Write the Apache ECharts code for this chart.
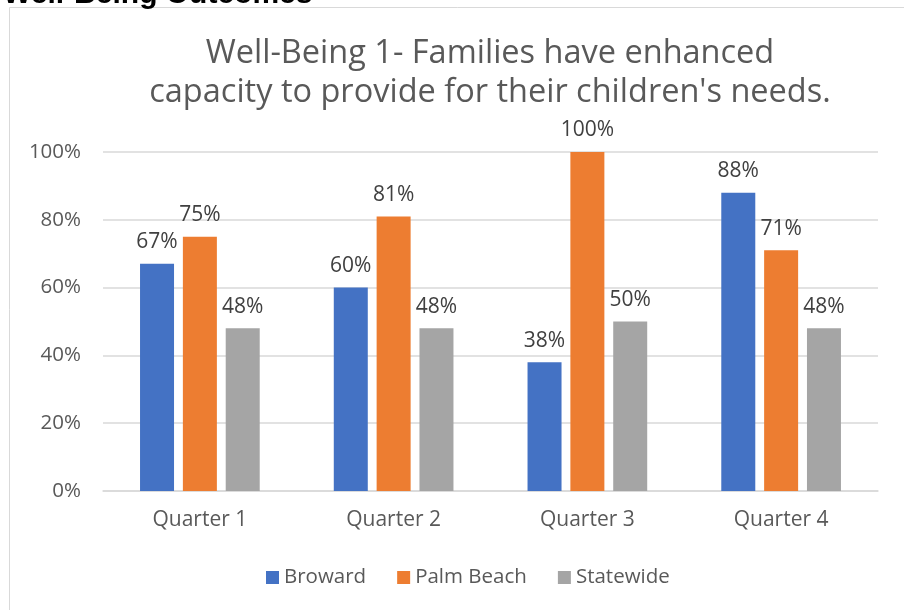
<!DOCTYPE html>
<html><head><meta charset="utf-8">
<script src="https://cdn.jsdelivr.net/npm/echarts@6/dist/echarts.min.js"></script>
<style>html,body{margin:0;padding:0;background:#fff}#c{width:904px;height:610px}</style>
</head><body><div id="c"></div>
<script>
const categories = ['Quarter 1','Quarter 2','Quarter 3','Quarter 4'];
const broward = [67,60,38,88];
const palmBeach = [75,81,100,71];
const statewide = [48,48,50,48];
const yTicks = [0,20,40,60,80,100];
const font = '"Open Sans", sans-serif';
const chart = echarts.init(document.getElementById('c'));
const lbl = {show:true, position:'top', distance:11, formatter: p => p.value + '%', color:'#404040', fontSize:21, fontFamily:font};
function s(name, data, color){
  return {name, type:'bar', data, itemStyle:{color}, barWidth:34, barGap:'26%', label:lbl};
}
chart.setOption({
  animation:false,
  graphic:[
    {type:'rect', shape:{x:9.5,y:7.5,width:900,height:610}, style:{fill:'none', stroke:'#d9d9d9', lineWidth:1}},
    {type:'text', left:3, top:-20, style:{text:'Well-Being Outcomes', font:'bold 30px "Liberation Sans", Arial, sans-serif', fill:'#000'}}
  ],
  title:{text:'Well-Being 1- Families have enhanced\ncapacity to provide for their children\'s needs.', left:485, textAlign:'center', top:29,
    textStyle:{fontSize:32.5, fontWeight:'normal', color:'#595959', fontFamily:font, lineHeight:39}},
  legend:{bottom:17, left:261, itemWidth:13, itemHeight:13, itemGap:31, icon:'rect',
    textStyle:{fontSize:20.5, color:'#595959', fontFamily:font}},
  grid:{left:103, right:26, top:152, bottom:119},
  xAxis:{type:'category', data:categories, axisTick:{show:false},
    axisLine:{lineStyle:{color:'#d9d9d9', width:1.5}},
    axisLabel:{fontSize:21, color:'#595959', fontFamily:font, margin:19}},
  yAxis:{type:'value', min:0, max:100, interval:20,
    axisLabel:{formatter: v => yTicks.includes(v) ? v + '%' : '', fontSize:20.5, color:'#595959', fontFamily:font, margin:22},
    splitLine:{lineStyle:{color:'#d9d9d9', width:1.5}}, axisLine:{show:false}},
  series:[s('Broward', broward, '#4472c4'), s('Palm Beach', palmBeach, '#ed7d31'), s('Statewide', statewide, '#a5a5a5')]
});
</script></body></html>
